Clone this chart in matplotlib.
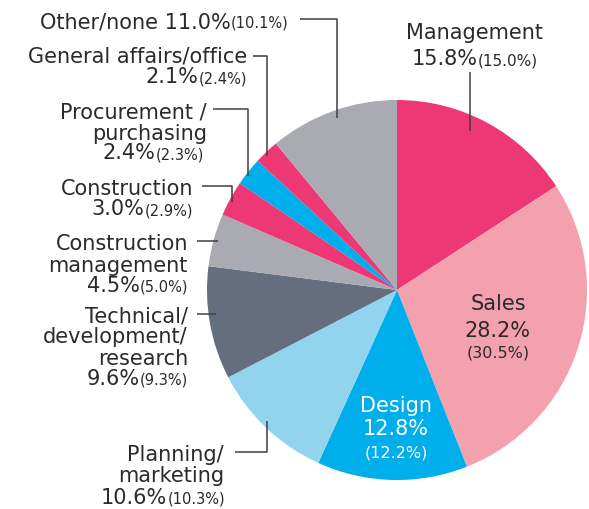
import matplotlib
matplotlib.use('Agg')
import matplotlib.pyplot as plt

# share of each occupation, current year and (previous year)
categories = ['Management', 'Sales', 'Design', 'Planning/\nmarketing',
              'Technical/\ndevelopment/\nresearch', 'Construction\nmanagement',
              'Construction', 'Procurement /\npurchasing', 'General affairs/office',
              'Other/none']
values = [15.8, 28.2, 12.8, 10.6, 9.6, 4.5, 3.0, 2.4, 2.1, 11.0]
previous = [15.0, 30.5, 12.2, 10.3, 9.3, 5.0, 2.9, 2.3, 2.4, 10.1]
colors = ['#EE3875', '#F4A1AE', '#00AEEB', '#92D3EE', '#646E7F',
          '#A9AAB2', '#EE3875', '#00AEEB', '#EE3875', '#A9AAB2']

W, H = 589, 510
TXT = '#2a2a2a'
LINE = '#3f3f3f'

fig = plt.figure(figsize=(W / 100, H / 100), dpi=100)
ax = fig.add_axes([0, 0, 1, 1])

def fy(y):
    # picture rows go down, axis goes up
    return H - y

ax.pie(values, colors=colors, startangle=90, counterclock=False,
       center=(397, fy(291)), radius=190, frame=True,
       wedgeprops=dict(linewidth=0))
ax.set_xlim(0, W)
ax.set_ylim(0, H)
ax.set_aspect('equal')
ax.axis('off')

renderer = fig.canvas.get_renderer()

def width(t):
    return t.get_window_extent(renderer).width

def two_part(x, y, big, small, align='right', small_size=10.5, color=TXT):
    t1 = ax.text(0, fy(y), big, fontsize=15, color=color, va='baseline', ha='left')
    t2 = ax.text(0, fy(y), small, fontsize=small_size, color=color, va='baseline', ha='left')
    w1, w2 = width(t1), width(t2)
    x0 = x - w1 - w2 if align == 'right' else x - (w1 + w2) / 2
    t1.set_x(x0)
    t2.set_x(x0 + w1)

def lines_right(x, ys, texts):
    for y, s in zip(ys, texts):
        ax.text(x, fy(y), s, fontsize=15, color=TXT, va='baseline', ha='right')

def pct(i):
    return f'{values[i]:.1f}%', f'({previous[i]:.1f}%)'

def leader(pts):
    xs = [p[0] for p in pts]
    ys = [fy(p[1]) for p in pts]
    ax.plot(xs, ys, color=LINE, lw=1.1, solid_capstyle='butt')

# Management (top right)
ax.text(474, fy(39), categories[0], fontsize=15, color=TXT, va='baseline', ha='center')
two_part(475, 65, *pct(0), align='center', small_size=11)
leader([(470, 73), (470, 132)])

# Sales (inside)
ax.text(498, fy(310), 'Sales', fontsize=15, color=TXT, va='baseline', ha='center')
ax.text(498, fy(337), pct(1)[0], fontsize=15, color=TXT, va='baseline', ha='center')
ax.text(498, fy(357), pct(1)[1], fontsize=11.5, color=TXT, va='baseline', ha='center')

# Design (inside, white)
ax.text(396, fy(412), 'Design', fontsize=15, color='white', va='baseline', ha='center')
ax.text(396, fy(435), pct(2)[0], fontsize=15, color='white', va='baseline', ha='center')
ax.text(396, fy(458), pct(2)[1], fontsize=11.5, color='white', va='baseline', ha='center')

# Planning/marketing
lines_right(224, [461, 482], ['Planning/', 'marketing'])
two_part(225, 504, *pct(3))
leader([(235, 453), (267, 453), (267, 422)])

# Technical/development/research
lines_right(188, [322, 343, 365], ['Technical/', 'development/', 'research'])
two_part(188, 385, *pct(4))
leader([(197, 315), (216, 315)])

# Construction management
lines_right(188, [250, 272], ['Construction', 'management'])
two_part(188, 292, *pct(5))
leader([(197, 242), (218, 242)])

# Construction
lines_right(193, [195], ['Construction'])
two_part(193, 215, *pct(6))
leader([(202, 187), (232, 187), (232, 203)])

# Procurement / purchasing
lines_right(207, [119, 140], ['Procurement /', 'purchasing'])
two_part(204, 159, *pct(7))
leader([(213, 110), (248, 110), (248, 177)])

# General affairs/office
lines_right(247, [63], ['General affairs/office'])
two_part(247, 83, *pct(8))
leader([(253, 57), (267, 57), (267, 157)])

# Other/none
two_part(288, 28, 'Other/none ' + pct(9)[0], pct(9)[1])
leader([(300, 20), (337, 20), (337, 119)])

fig.savefig('out.png', dpi=100)
